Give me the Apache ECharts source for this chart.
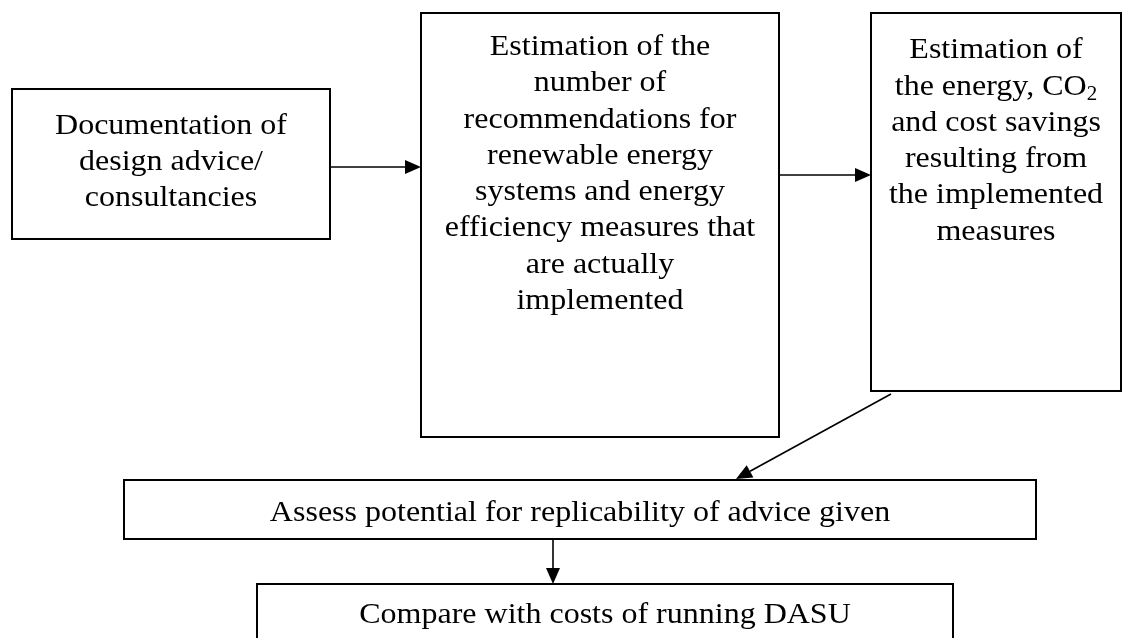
<!DOCTYPE html>
<html>
<head>
<meta charset="utf-8">
<script src="https://cdn.jsdelivr.net/npm/echarts@6/dist/echarts.min.js"></script>
<style>
html,body{margin:0;padding:0;background:#fff;}
#main{width:1125px;height:638px;}
</style>
</head>
<body>
<div id="main"></div>
<script>
// Node texts
const boxLabels = [
  "Documentation of\ndesign advice/\nconsultancies",
  "Estimation of the\nnumber of\nrecommendations for\nrenewable energy\nsystems and energy\nefficiency measures that\nare actually\nimplemented",
  "Estimation of\nthe energy, CO{sub|2}\nand cost savings\nresulting from\nthe implemented\nmeasures",
  "Assess potential for replicability of advice given",
  "Compare with costs of running DASU"
];
// Node layout (diagram units = pixels of the canvas)
const boxLeft   = [12, 421, 871, 124, 257];
const boxTop    = [89, 13, 13, 480, 584];
const boxRight  = [330, 779, 1121, 1036, 953];
const boxBottom = [239, 437, 391, 539, 660];
const textX     = [171, 600, 996, 580, 605];
const textY     = [162, 174, 141, 513, 615];
// Connectors: from -> to
const arrowFromX = [330, 779, 891, 553];
const arrowFromY = [167, 175, 394, 539];
const arrowToX   = [421, 871, 736, 553];
const arrowToY   = [167, 175, 479, 584];

const FONT = 'Liberation Serif';
const SCALE_Y = 0.95;

const chart = echarts.init(document.getElementById('main'));

const option = {
  animation: false,
  backgroundColor: '#fff',
  grid: {left: 0, right: 0, top: 0, bottom: 0},
  xAxis: {type: 'value', min: 0, max: 1125, show: false},
  yAxis: {type: 'value', min: 0, max: 638, inverse: true, show: false},
  series: [
    {
      type: 'custom',
      coordinateSystem: 'cartesian2d',
      silent: true,
      clip: false,
      data: boxLabels.map((_, i) => [boxLeft[i], boxTop[i], boxRight[i], boxBottom[i], textX[i], textY[i]]),
      renderItem: function (params, api) {
        const i = params.dataIndex;
        const p0 = api.coord([api.value(0), api.value(1)]);
        const p1 = api.coord([api.value(2), api.value(3)]);
        const c = api.coord([api.value(4), api.value(5)]);
        return {
          type: 'group',
          children: [
            {
              type: 'rect',
              shape: {x: p0[0], y: p0[1], width: p1[0] - p0[0], height: p1[1] - p0[1]},
              style: {fill: '#fff', stroke: '#000', lineWidth: 2}
            },
            {
              type: 'text',
              x: c[0], y: c[1],
              scaleY: SCALE_Y,
              style: {
                text: boxLabels[i],
                fontFamily: FONT,
                fontSize: 32,
                lineHeight: 36.3 / SCALE_Y,
                fill: '#000',
                align: 'center',
                verticalAlign: 'middle',
                rich: {
                  sub: {fontFamily: FONT, fontSize: 21, lineHeight: 22, verticalAlign: 'bottom', fill: '#000'}
                }
              }
            }
          ]
        };
      }
    },
    {
      type: 'custom',
      coordinateSystem: 'cartesian2d',
      silent: true,
      clip: false,
      data: arrowFromX.map((_, i) => [arrowFromX[i], arrowFromY[i], arrowToX[i], arrowToY[i]]),
      renderItem: function (params, api) {
        const a = api.coord([api.value(0), api.value(1)]);
        const b = api.coord([api.value(2), api.value(3)]);
        const dx = b[0] - a[0], dy = b[1] - a[1];
        const len = Math.sqrt(dx * dx + dy * dy);
        const ux = dx / len, uy = dy / len;
        const hl = 16, hw = 7;
        const bx = b[0] - ux * hl, by = b[1] - uy * hl;
        return {
          type: 'group',
          children: [
            {
              type: 'line',
              shape: {x1: a[0], y1: a[1], x2: bx, y2: by},
              style: {stroke: '#000', lineWidth: 1.6}
            },
            {
              type: 'polygon',
              shape: {points: [[b[0], b[1]], [bx - uy * hw, by + ux * hw], [bx + uy * hw, by - ux * hw]]},
              style: {fill: '#000'}
            }
          ]
        };
      }
    }
  ]
};

chart.setOption(option);
</script>
</body>
</html>
